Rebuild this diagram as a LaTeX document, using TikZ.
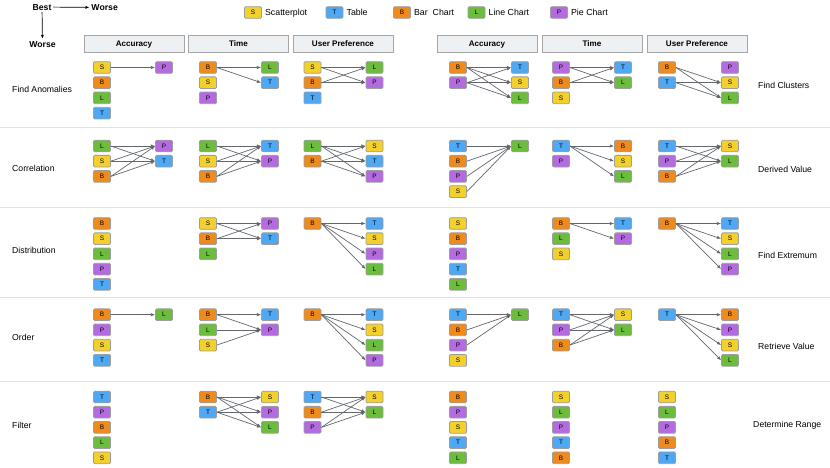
\documentclass[tikz,border=0pt]{standalone}
\usepackage{fontspec}
\setmainfont{Liberation Sans}
\usepackage{xcolor}
\usepackage{tikz}
\usetikzlibrary{arrows.meta,positioning}
\definecolor{ChipS}{HTML}{F3D02C}
\definecolor{ChipT}{HTML}{4EA8F3}
\definecolor{ChipB}{HTML}{EF8A1D}
\definecolor{ChipL}{HTML}{6CBD3D}
\definecolor{ChipP}{HTML}{B46BE0}
\definecolor{HeadGray}{HTML}{EEF1F4}
\definecolor{RuleGray}{HTML}{E2E2E2}
\definecolor{LinkGray}{HTML}{63676B}
\tikzset{
  chip/.style={draw=black!38,line width=0.65pt,fill=Chip#1,rounded corners=1pt,minimum width=5.1mm,minimum height=3.5mm,inner sep=0pt,text height=3.9pt,text depth=0pt,font=\fontsize{5.5}{5.5}\selectfont},
  headbox/.style={draw=black!35,fill=HeadGray,minimum width=30mm,minimum height=5.1mm,inner sep=0pt,text height=5pt,text depth=0pt,font=\fontsize{6.9}{8}\selectfont\bfseries},
  tasklabel/.style={font=\fontsize{7.4}{9}\selectfont,inner sep=0pt,anchor=west,text height=5.3pt,text depth=0pt},
  legtext/.style={font=\fontsize{7.5}{9}\selectfont,inner sep=0pt,text height=5.4pt,text depth=0pt},
  ranktext/.style={font=\fontsize{7.4}{9}\selectfont\bfseries,inner sep=1.5pt,text height=5.3pt,text depth=0pt},
  linkarrow/.style={-{Latex[length=1.25mm,width=1mm]},line width=0.6pt,draw=LinkGray},
  rankarrow/.style={-{Latex[length=1.2mm,width=0.9mm]},line width=0.6pt},
  rowrule/.style={draw=RuleGray,line width=0.6pt}
}
% one ranked column of chips: name, x, y of first chip, chips
\newcommand{\srcstack}[4]{%
  \foreach \c [count=\i] in {#4}
    \node[chip=\c] (#1s\i) at (#2,{#3+(\i-1)*15.2}) {\c};}
\newcommand{\dststack}[4]{%
  \foreach \c [count=\i] in {#4}
    \node[chip=\c] (#1d\i) at (#2,{#3+(\i-1)*15.2}) {\c};}
\newcommand{\links}[2]{%
  \foreach \u/\v in {#2}
    \draw[linkarrow] (#1s\u.east) -- (#1d\v.west);}

\begin{document}
\begin{tikzpicture}[x=0.03cm,y=-0.03cm]
\useasboundingbox (0,0) rectangle (830,467);

% ranking key
\node[ranktext] (best) at (42,7) {Best};
\node[ranktext,anchor=west] (worseh) at (89.5,7.5) {Worse};
\node[ranktext] (worsev) at (42.5,44) {Worse};
\draw[rankarrow] (best) -- (worseh);
\draw[rankarrow] (best) -- (worsev);

% legend
\node[chip=S] (legS) at (253,12.5) {S};
\node[legtext,right=0.9mm of legS] (legStext) {Scatterplot};
\node[chip=T] (legT) at (334.5,12.5) {T};
\node[legtext,right=0.9mm of legT] (legTtext) {Table};
\node[chip=B] (legB) at (402,12.5) {B};
\node[legtext,right=0.9mm of legB] (legBtext) {Bar\ \ Chart};
\node[chip=L] (legL) at (476.5,12.5) {L};
\node[legtext,right=0.9mm of legL] (legLtext) {Line Chart};
\node[chip=P] (legP) at (559,12.5) {P};
\node[legtext,right=0.9mm of legP] (legPtext) {Pie Chart};

% column headers
\foreach \t/\x [count=\k] in {Accuracy/134,Time/238.5,User Preference/343}
  \node[headbox] (hdL\k) at (\x,43.5) {\t};
\foreach \t/\x [count=\k] in {Accuracy/487,Time/592,User Preference/697}
  \node[headbox] (hdR\k) at (\x,43.5) {\t};

% row rules
\foreach \y in {127,207,297,381}
  \draw[rowrule] (0,\y) -- (830,\y);

% Find Anomalies / Find Clusters
\node[tasklabel] (faLab) at (12,89) {Find Anomalies};
\srcstack{faA}{102}{67.5}{S,B,L,T} \dststack{faA}{164}{67.5}{P}
\links{faA}{1/1}
\srcstack{faT}{208}{67.5}{B,S,P} \dststack{faT}{270}{67.5}{L,T}
\links{faT}{1/1,1/2}
\srcstack{faU}{312.5}{67.5}{S,B,T} \dststack{faU}{374.5}{67.5}{L,P}
\links{faU}{1/1,1/2,2/1,2/2}
\node[tasklabel] (fcLab) at (758,85) {Find Clusters};
\srcstack{fcA}{458}{67.5}{B,P} \dststack{fcA}{520}{67.5}{T,S,L}
\links{fcA}{1/1,1/2,1/3,2/1,2/2,2/3}
\srcstack{fcT}{561}{67.5}{P,B,S} \dststack{fcT}{623}{67.5}{T,L}
\links{fcT}{1/1,1/2,2/1,2/2}
\srcstack{fcU}{667}{67.5}{B,T} \dststack{fcU}{730}{67.5}{P,S,L}
\links{fcU}{1/2,1/3,2/2,2/3}

% Correlation / Derived Value
\node[tasklabel] (coLab) at (12,168.5) {Correlation};
\srcstack{coA}{102}{146}{L,S,B} \dststack{coA}{164}{146}{P,T}
\links{coA}{1/1,1/2,2/1,2/2,3/1,3/2}
\srcstack{coT}{208}{146}{L,S,B} \dststack{coT}{270}{146}{T,P}
\links{coT}{1/1,1/2,2/1,2/2,3/1,3/2}
\srcstack{coU}{312.5}{146}{L,B} \dststack{coU}{374.5}{146}{S,T,P}
\links{coU}{1/1,1/2,1/3,2/1,2/2,2/3}
\node[tasklabel] (dvLab) at (758,169) {Derived Value};
\srcstack{dvA}{458}{146}{T,B,P,S} \dststack{dvA}{520}{146}{L}
\links{dvA}{1/1,2/1,3/1,4/1}
\srcstack{dvT}{561}{146}{T,P} \dststack{dvT}{623}{146}{B,S,L}
\links{dvT}{1/1,1/2,1/3}
\srcstack{dvU}{667}{146}{T,P,B} \dststack{dvU}{730}{146}{S,L}
\links{dvU}{1/1,1/2,2/1,2/2,3/1,3/2}

% Distribution / Find Extremum
\node[tasklabel] (diLab) at (12,250.5) {Distribution};
\srcstack{diA}{102}{223.5}{B,S,L,P,T}
\srcstack{diT}{208}{223.5}{S,B,L} \dststack{diT}{270}{223.5}{P,T}
\links{diT}{1/1,1/2,2/1,2/2}
\srcstack{diU}{312.5}{223.5}{B} \dststack{diU}{374.5}{223.5}{T,S,P,L}
\links{diU}{1/1,1/2,1/3,1/4}
\node[tasklabel] (feLab) at (758,255) {Find Extremum};
\srcstack{feA}{458}{223.5}{S,B,P,T,L}
\srcstack{feT}{561}{223.5}{B,L,S} \dststack{feT}{623}{223.5}{T,P}
\links{feT}{1/1,1/2}
\srcstack{feU}{667}{223.5}{B} \dststack{feU}{730}{223.5}{T,S,L,P}
\links{feU}{1/1,1/2,1/3,1/4}

% Order / Retrieve Value
\node[tasklabel] (orLab) at (12,337.5) {Order};
\srcstack{orA}{102}{314.7}{B,P,S,T} \dststack{orA}{164}{314.7}{L}
\links{orA}{1/1}
\srcstack{orT}{208}{314.7}{B,L,S} \dststack{orT}{270}{314.7}{T,P}
\links{orT}{1/1,1/2,2/2,3/2}
\srcstack{orU}{312.5}{314.7}{B} \dststack{orU}{374.5}{314.7}{T,S,L,P}
\links{orU}{1/1,1/2,1/3,1/4}
\node[tasklabel] (rvLab) at (758,346) {Retrieve Value};
\srcstack{rvA}{458}{314.7}{T,B,P,S} \dststack{rvA}{520}{314.7}{L}
\links{rvA}{1/1,2/1,3/1}
\srcstack{rvT}{561}{314.7}{T,P,B} \dststack{rvT}{623}{314.7}{S,L}
\links{rvT}{1/1,1/2,2/1,2/2,3/1,3/2}
\srcstack{rvU}{667}{314.7}{T} \dststack{rvU}{730}{314.7}{B,P,S,L}
\links{rvU}{1/1,1/2,1/3,1/4}

% Filter / Determine Range
\node[tasklabel] (fiLab) at (12,425.5) {Filter};
\srcstack{fiA}{102}{397}{T,P,B,L,S}
\srcstack{fiT}{208}{397}{B,T} \dststack{fiT}{270}{397}{S,P,L}
\links{fiT}{1/1,1/2,1/3,2/1,2/2,2/3}
\srcstack{fiU}{312.5}{397}{T,B,P} \dststack{fiU}{374.5}{397}{S,L}
\links{fiU}{1/1,1/2,2/1,2/2,3/1,3/2}
\node[tasklabel] (drLab) at (753,424) {Determine Range};
\srcstack{drA}{458}{397}{B,P,S,T,L}
\srcstack{drT}{561}{397}{S,L,P,T,B}
\srcstack{drU}{667}{397}{S,L,P,B,T}
\end{tikzpicture}
\end{document}
